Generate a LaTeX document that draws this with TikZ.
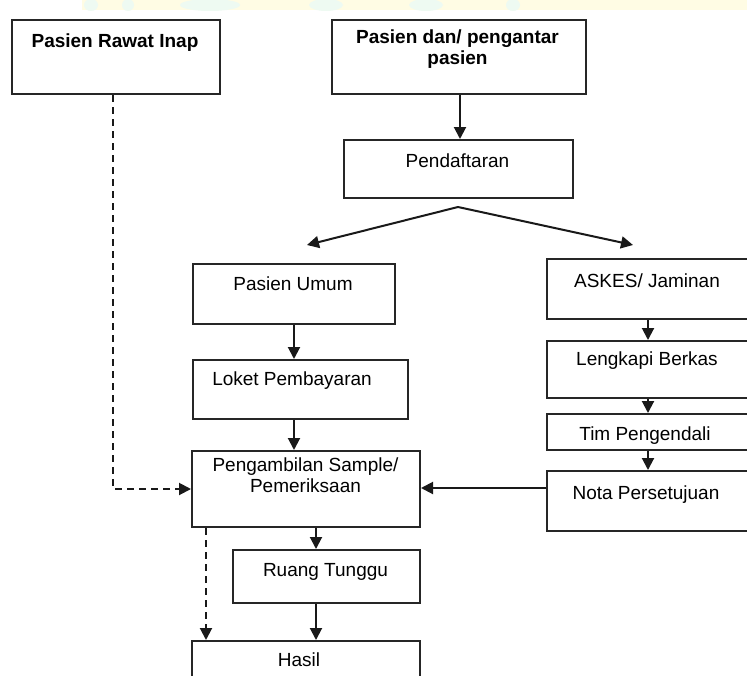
\documentclass[tikz,border=0pt]{standalone}
\usepackage{fontspec}
\setmainfont{Liberation Sans}
\usetikzlibrary{arrows.meta,calc}

\definecolor{bandyellow}{HTML}{FFFCE4}
\definecolor{bandmint}{HTML}{EEFAF2}

\tikzset{
  box/.style={draw=black!85, line width=2pt, rectangle, anchor=north west, inner sep=0pt},
  lbl/.style={anchor=base, inner sep=0pt, font=\fontsize{19}{21}\selectfont, align=center},
  boldlbl/.style={lbl, font=\fontsize{19}{21}\selectfont\bfseries},
  arr/.style={draw=black!90, line width=2pt, -{Triangle[length=12pt,width=12pt]}},
  darr/.style={arr, dash pattern=on 7pt off 5pt},
}

\begin{document}
\begin{tikzpicture}[x=1pt,y=-1pt]
  \clip (0,0) rectangle (747,675);
  \useasboundingbox (0,0) rectangle (747,675);
  \fill[white] (0,0) rectangle (747,675);

  % faint header band
  \fill[bandyellow] (82,0) rectangle (747,10);
  \begin{scope}
    \clip (82,0) rectangle (747,10);
    \foreach \cx/\rx in {91/7,128/6,210/30,326/17,426/17,513/7}
      \fill[bandmint] (\cx,5) ellipse ({\rx} and 6);
  \end{scope}

  % ---- boxes ----
  \node[box, minimum width=208, minimum height=74] (ri)  at (11,19)  {};
  \node[box, minimum width=254, minimum height=74] (pd)  at (331,19) {};
  \node[box, minimum width=229, minimum height=58] (pf)  at (343,139) {};
  \node[box, minimum width=202, minimum height=60] (pu)  at (192,263) {};
  \node[box, minimum width=215, minimum height=59] (lp)  at (192,359) {};
  \node[box, minimum width=228, minimum height=76] (pg)  at (191,450) {};
  \node[box, minimum width=187, minimum height=53] (rt)  at (232,549) {};
  \node[box, minimum width=228, minimum height=80] (hs)  at (191,640) {};
  \node[box, minimum width=202, minimum height=60] (ak)  at (546,258) {};
  \node[box, minimum width=202, minimum height=57] (lb)  at (546,340) {};
  \node[box, minimum width=202, minimum height=36] (tp)  at (546,413) {};
  \node[box, minimum width=202, minimum height=60] (np)  at (546,470) {};

  % ---- labels ----
  \node[boldlbl] (tri) at (115,47)  {Pasien Rawat Inap};
  \node[boldlbl, anchor=north] (tpd) at (457.5,30) {Pasien dan/ pengantar\\pasien};
  \node[lbl] (tpf) at (457.5,167) {Pendaftaran};
  \node[lbl] (tpu) at (293,290)  {Pasien Umum};
  \node[lbl] (tlp) at (292,385)  {Loket Pembayaran};
  \node[lbl, anchor=north] (tpg) at (305.5,458) {Pengambilan Sample/\\Pemeriksaan};
  \node[lbl] (trt) at (325.5,576) {Ruang Tunggu};
  \node[lbl] (ths) at (299,666)  {Hasil};
  \node[lbl] (tak) at (647,287)  {ASKES/ Jaminan};
  \node[lbl] (tlb) at (647,365)  {Lengkapi Berkas};
  \node[lbl] (ttp) at (645,440)  {Tim Pengendali};
  \node[lbl] (tnp) at (646,499)  {Nota Persetujuan};

  % ---- connectors ----
  \coordinate (split) at (458,207);
  \coordinate (toumum) at (307,245);
  \coordinate (toaskes) at (633,245);

  \draw[arr] ([xshift=1]pd.south) -- ([xshift=1]pd.south |- pf.north);
  \draw[arr] (split) -- (toumum);
  \draw[arr] (split) -- (toaskes);

  \draw[arr] (pu.south) -- (pu.south |- lp.north);
  \draw[arr] (pu.south |- lp.south) -- (pu.south |- pg.north);
  \draw[arr] ([xshift=10]pg.south) -- ([xshift=10]pg.south |- rt.north);
  \draw[arr] ([xshift=10]pg.south |- rt.south) -- ([xshift=10]pg.south |- hs.north);
  \draw[darr] ([xshift=15]pg.south west) -- ([xshift=15]pg.south west |- hs.north);

  \draw[darr] ([xshift=-3]ri.south) |- ($(pg.north west)!0.5!(pg.south west)$);

  \draw[arr] (ak.south) -- (lb.north);
  \draw[arr] (lb.south) -- (tp.north);
  \draw[arr] (tp.south) -- (np.north);
  \draw[arr] (np.west |- 0,488) -- (pg.east |- 0,488);
\end{tikzpicture}
\end{document}
